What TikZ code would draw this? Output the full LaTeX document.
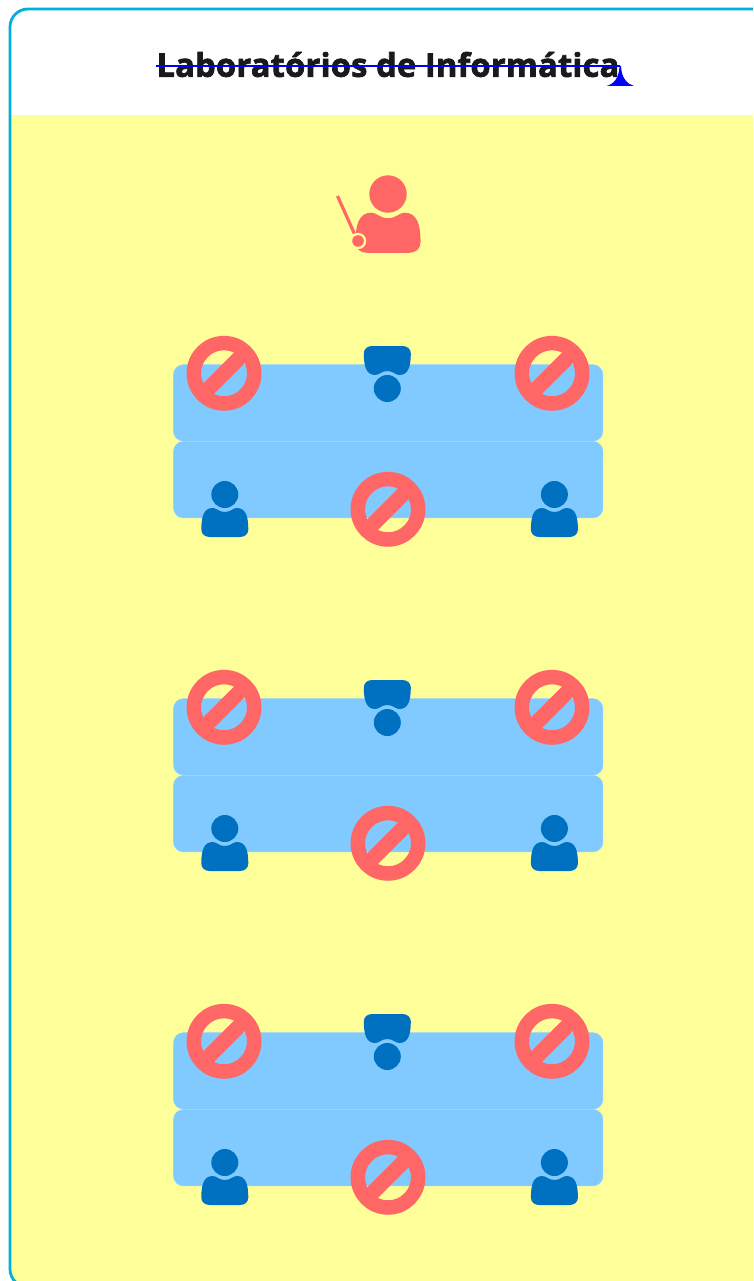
\documentclass[tikz,border=0pt]{standalone}
\usepackage{fontspec}
\setmainfont{Open Sans}
\newfontfamily\titlefont[BoldFeatures={FakeBold=2.2},LetterSpace=0.9]{Open Sans}
\definecolor{frameC}{HTML}{00B0D8}
\definecolor{yellowC}{HTML}{FFFF99}
\definecolor{tableC}{HTML}{80CAFF}
\definecolor{darkC}{HTML}{0070C0}
\definecolor{redC}{HTML}{FF6666}
\definecolor{titleC}{HTML}{1A1A1A}
\tikzset{
  tablebox/.style={fill=tableC,draw=tableC!80!white,line width=0.5pt,rounded corners=10pt},
  nosign/.pic={
    \draw[redC,line width=14.5pt] (0,0) circle[radius=30.2];
    \draw[redC,line width=15pt] (-21.5,21.5) -- (21.5,-21.5);
  },
  bust/.pic={
    \fill[#1] (0,0) circle[radius=13.5];
    \fill[#1] (-15,42.5) -- (15,42.5) .. controls (20,42.5) and (23.5,39.5) .. (23.5,35)
      .. controls (23.5,22) and (21,13.5) .. (12,13.5)
      .. controls (8,13.5) and (6,17.5) .. (0,17.5)
      .. controls (-6,17.5) and (-8,13.5) .. (-12,13.5)
      .. controls (-21,13.5) and (-23.5,22) .. (-23.5,35)
      .. controls (-23.5,39.5) and (-20,42.5) .. (-15,42.5) -- cycle;
  },
  titletext/.style={inner sep=0pt,text=titleC,font=\titlefont\fontsize{32.5}{36}\selectfont\bfseries},
  strikeline/.style={draw=blue,line width=2.8pt},
}
\newcommand{\tablerow}[1]{%
  \node[tablebox,minimum width=429.5pt,minimum height=76.5pt,anchor=north west,inner sep=0pt] (top#1) at (173.2,364.4+#1) {};
  \node[tablebox,minimum width=429.5pt,minimum height=76.5pt,anchor=north west,inner sep=0pt] (bot#1) at (173.2,441.2+#1) {};
  \pic at (224,373.3+#1) {nosign};
  \pic at (552,373.3+#1) {nosign};
  \pic at (388,509.3+#1) {nosign};
  \pic[yscale=-1] at (387.3,388.5+#1) {bust=darkC};
  \pic at (224.8,494.5+#1) {bust=darkC};
  \pic at (554.4,494.5+#1) {bust=darkC};
}
\begin{document}
\begin{tikzpicture}[x=1pt,y=-1pt]
\useasboundingbox (0,0) rectangle (753,1281);
\clip (0,0) rectangle (753,1281);
\fill[white] (0,0) rectangle (753,1281);
\begin{scope}
  \clip[rounded corners=18pt] (10,9) rectangle (790,1287);
  \fill[white] (10,9) rectangle (790,115);
  \fill[yellowC] (10,115) rectangle (790,1287);
\end{scope}
\draw[frameC,line width=2.8pt,rounded corners=18pt] (10,9) rectangle (790,1287);
\node[titletext] (title) at (388,64.5) {Laboratórios de Informática};
\coordinate (spike) at (620,66);
\draw[strikeline] (156,66) -- (spike);
\fill[blue] (spike) ++(-0.5,0) .. controls (619,78) and (614,84) .. (606.5,86) -- (634,86) .. controls (627,84) and (621.5,78) .. (621,66) -- cycle;
% teacher
\pic[scale=1.385] at (388,194) {bust=redC};
\draw[redC,line width=3.2pt] (337.5,196) -- (355,235);
\fill[yellowC] (358,241) circle[radius=8.2];
\fill[redC] (358,241) circle[radius=5.8];
\tablerow{0}
\tablerow{334}
\tablerow{668}
\end{tikzpicture}
\end{document}
